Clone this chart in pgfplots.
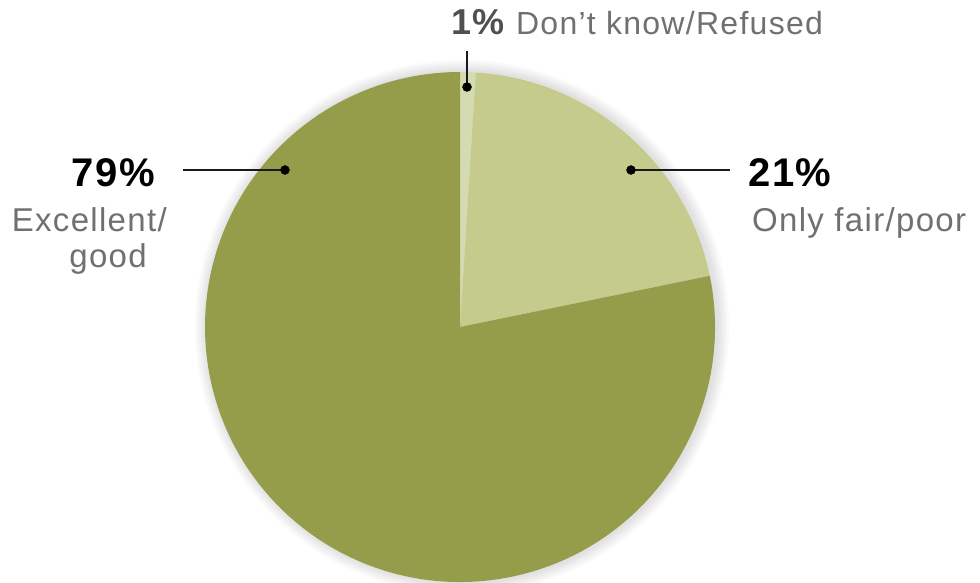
\documentclass[border=0pt]{standalone}
\usepackage{pgfplots}
\usepackage{pgfplotstable}
\pgfplotsset{compat=1.18}
\usepackage{fontspec}
\setmainfont{Liberation Sans}[LetterSpace=4]
\definecolor{dk}{HTML}{959D4A}
\definecolor{lt}{HTML}{C4CB8D}
\definecolor{vl}{HTML}{D4DBB0}
\definecolor{txt}{HTML}{707070}
\definecolor{num}{HTML}{505050}
\pgfplotstableread{
label value
dontknow 1
fair 21
good 79
}\piedata
\pgfplotstablegetelem{0}{value}\of\piedata \let\vA\pgfplotsretval
\pgfplotstablegetelem{1}{value}\of\piedata \let\vB\pgfplotsretval
\pgfplotstablegetelem{2}{value}\of\piedata \let\vC\pgfplotsretval
\pgfmathsetmacro{\tot}{\vA+\vB+\vC}
\pgfmathsetmacro{\aA}{90-360*\vA/\tot}
\pgfmathsetmacro{\aB}{\aA-360*\vB/\tot}
\begin{document}%
\begin{tikzpicture}
\begin{axis}[x=1pt,y=1pt,hide axis,xmin=0,xmax=980,ymin=0,ymax=582,
  clip=false,at={(0,0)},anchor=origin]
% soft shadow
\pgfplotsinvokeforeach{2,4,6,8,10,12}{
  \fill[black,opacity=0.018] (axis cs:462,255) circle[radius=255pt+#1pt];
}
% wedges
\fill[vl] (axis cs:460,255) -- +(90:255pt) arc[start angle=90,end angle=\aA,radius=255pt] -- cycle;
\fill[lt] (axis cs:460,255) -- +(\aA:255pt) arc[start angle=\aA,end angle=\aB,radius=255pt] -- cycle;
\fill[dk] (axis cs:460,255) -- +(\aB:255pt) arc[start angle=\aB,end angle=-270,radius=255pt] -- cycle;
% leader lines
\addplot[black!90,line width=2.4pt] coordinates {(467,495) (467,531)};
\addplot[black!90,line width=2.4pt] coordinates {(631,412) (730,412)};
\addplot[black!90,line width=2.4pt] coordinates {(285,412) (183,412)};
\addplot[only marks,mark=*,mark size=4.5pt,black] coordinates {(467,495) (631,412) (285,412)};
% labels
\node[anchor=base west,inner sep=0pt] at (axis cs:451,547)
  {\fontsize{36}{40}\selectfont\bfseries\color{num}1\%\ \fontsize{32}{36}\selectfont\mdseries\color{txt}Don’t know/Refused};
\node[anchor=base east,inner sep=0pt] at (axis cs:155,395)
  {\fontsize{40}{44}\selectfont\bfseries 79\%};
\node[anchor=base east,inner sep=0pt,text=txt] at (axis cs:167,350)
  {\fontsize{33}{36}\selectfont Excellent/};
\node[anchor=base east,inner sep=0pt,text=txt] at (axis cs:147,314)
  {\fontsize{33}{36}\selectfont good};
\node[anchor=base west,inner sep=0pt] at (axis cs:748,395)
  {\fontsize{40}{44}\selectfont\bfseries 21\%};
\node[anchor=base west,inner sep=0pt,text=txt] at (axis cs:752,350)
  {\fontsize{33}{36}\selectfont Only fair/poor};
\end{axis}
\pgfresetboundingbox
\path[use as bounding box] (0,0) rectangle (980pt,582pt);
\end{tikzpicture}%
\end{document}
